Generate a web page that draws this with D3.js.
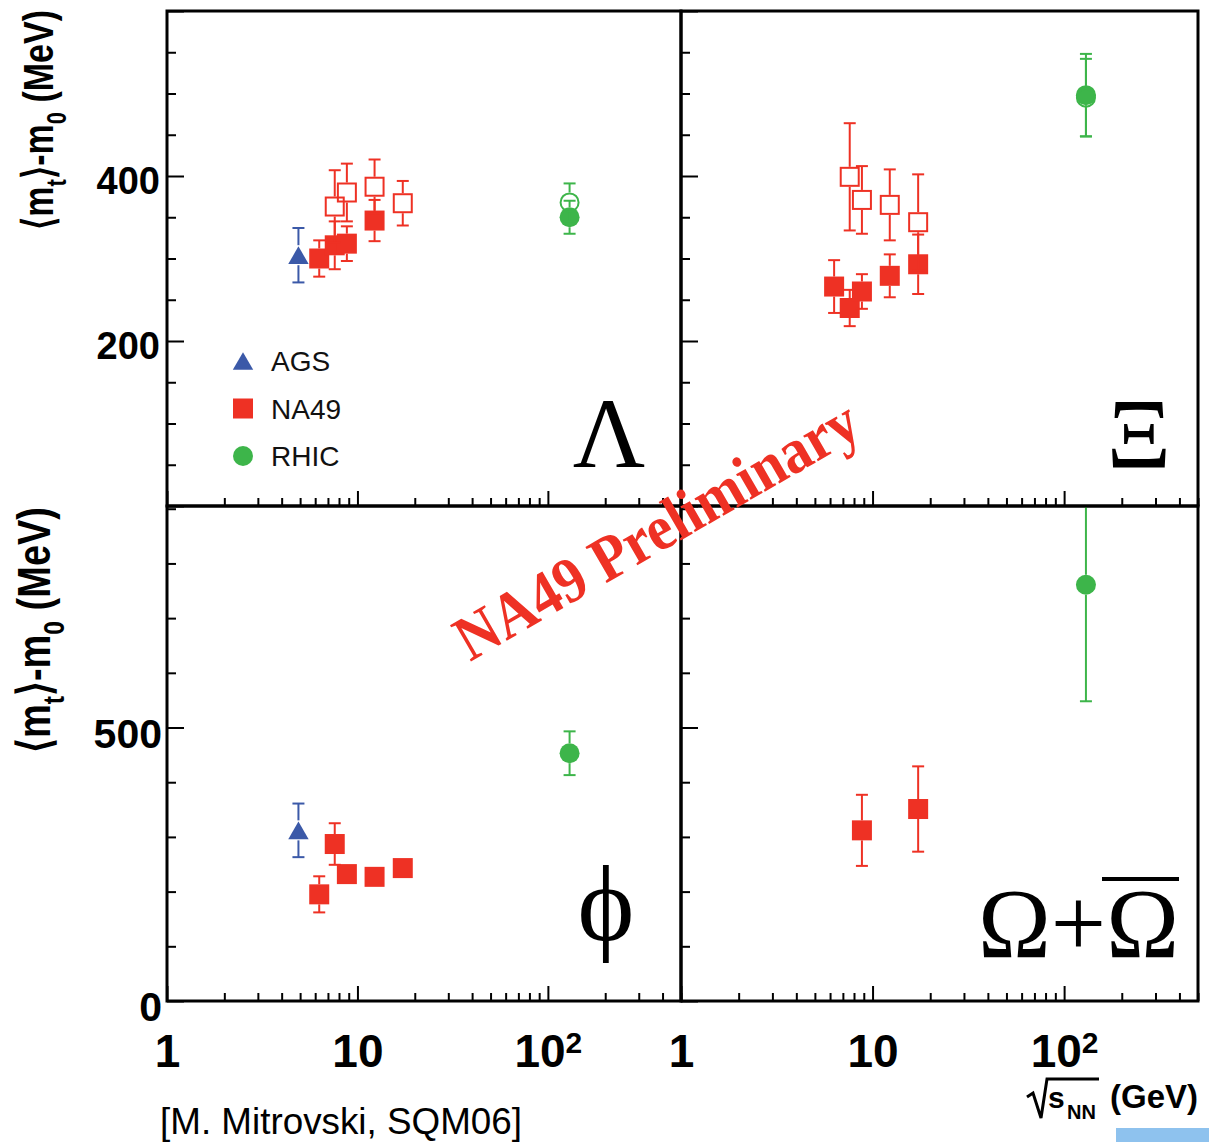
<!DOCTYPE html>
<html>
<head>
<meta charset="utf-8">
<script src="https://cdn.jsdelivr.net/npm/d3@7"></script>
<style>
  body { margin: 0; background: #fff; }
  svg { display: block; }
</style>
</head>
<body>
<div id="chart"></div>
<script>
// x: sqrt(s_NN) in GeV, y: <mt>-m0 in MeV, err: error in MeV
const lambdaAGS     = [[4.9, 304, 33]];
const lambdaNA49    = [[6.3, 300, 22], [7.6, 316, 29], [8.8, 318, 21], [12.3, 346, 25]];
const lambdaBarNA49 = [[7.6, 363, 44], [8.8, 380, 35], [12.3, 387, 33], [17.3, 367, 27]];
const lambdaRHIC    = [[130, 350, 20]];
const lambdaBarRHIC = [[130, 368, 23]];

const xiNA49    = [[6.3, 266, 32], [7.6, 240, 22], [8.8, 260, 21], [12.3, 279, 26], [17.3, 293, 36]];
const xiBarNA49 = [[7.6, 399, 65], [8.8, 371, 41], [12.3, 365, 43], [17.3, 344, 58]];
const xiRHIC    = [[130, 498, 50]];
const xiBarRHIC = [[130, 495, 47]];

const phiAGS  = [[4.9, 312, 49]];
const phiNA49 = [[6.3, 195, 33], [7.6, 287, 38], [8.8, 232, 8], [12.3, 227, 8], [17.3, 243, 8]];
const phiRHIC = [[130, 453, 40]];

const omegaNA49 = [[8.8, 312, 65], [17.3, 351, 78]];
const omegaRHIC = [[130, 761, 213]];

const legendNames = ["AGS", "NA49", "RHIC"];

const xMajor = [1, 10, 100];
const xMinor = [2, 3, 4, 5, 6, 7, 8, 9, 20, 30, 40, 50, 60, 70, 80, 90, 200, 300, 400, 500];
const yTopMajor = [0, 200, 400, 600];
const yTopMinor = [50, 100, 150, 250, 300, 350, 450, 500, 550];
const yBotMajor = [0, 500];
const yBotMinor = [100, 200, 300, 400, 600, 700, 800, 900];
const yTopLabels = [200, 400];
const yBotLabels = [0, 500];

const RED = "#ee3124", BLUE = "#3b59a8", GREEN = "#3db54a";
const sans = "'Liberation Sans', Arial, Helvetica, sans-serif";
const serif = "'Liberation Serif', 'Times New Roman', 'DejaVu Serif', serif";

const width = 1209, height = 1142;

const svg = d3.select("#chart").append("svg")
    .attr("width", width)
    .attr("height", height);

const defs = svg.append("defs");

// panel layout
const panels = [
    {id: "lam", x0: 167, x1: 681, y0: 11, y1: 506, yMax: 600, major: yTopMajor, minor: yTopMinor,
     labels: yTopLabels, xLabels: false, series: [
        {data: lambdaAGS, shape: "tri", color: BLUE},
        {data: lambdaNA49, shape: "sq", color: RED},
        {data: lambdaBarNA49, shape: "sq", color: RED, open: true},
        {data: lambdaRHIC, shape: "circ", color: GREEN},
        {data: lambdaBarRHIC, shape: "circ", color: GREEN, open: true}]},
    {id: "xi", x0: 681, x1: 1198, y0: 11, y1: 506, yMax: 600, major: yTopMajor, minor: yTopMinor,
     labels: null, xLabels: false, series: [
        {data: xiNA49, shape: "sq", color: RED},
        {data: xiBarNA49, shape: "sq", color: RED, open: true},
        {data: xiRHIC, shape: "circ", color: GREEN},
        {data: xiBarRHIC, shape: "circ", color: GREEN, open: true}]},
    {id: "phi", x0: 167, x1: 681, y0: 506, y1: 1001, yMax: 905, major: yBotMajor, minor: yBotMinor,
     labels: yBotLabels, xLabels: true, series: [
        {data: phiAGS, shape: "tri", color: BLUE},
        {data: phiNA49, shape: "sq", color: RED},
        {data: phiRHIC, shape: "circ", color: GREEN}]},
    {id: "om", x0: 681, x1: 1198, y0: 506, y1: 1001, yMax: 905, major: yBotMajor, minor: yBotMinor,
     labels: null, xLabels: true, series: [
        {data: omegaNA49, shape: "sq", color: RED},
        {data: omegaRHIC, shape: "circ", color: GREEN}]}
];

const half = 10;
const triangle = d3.symbol(d3.symbolTriangle, 180);

function marker(sel, shape, color, open, cx, cy) {
    if (shape === "sq") {
        sel.append("rect")
            .attr("x", cx - half + (open ? 1 : 0)).attr("y", cy - half + (open ? 1 : 0))
            .attr("width", open ? 2 * half - 2 : 2 * half).attr("height", open ? 2 * half - 2 : 2 * half)
            .attr("fill", open ? "none" : color)
            .attr("stroke", open ? color : "none")
            .attr("stroke-width", 2);
    } else if (shape === "circ") {
        sel.append("circle")
            .attr("cx", cx).attr("cy", cy).attr("r", open ? half - 1 : half)
            .attr("fill", open ? "none" : color)
            .attr("stroke", open ? color : "none")
            .attr("stroke-width", 2);
    } else {
        sel.append("path")
            .attr("d", triangle())
            .attr("transform", `translate(${cx},${cy + 2.9})`)
            .attr("fill", color);
    }
}

function cleanAxis(g) {
    g.select(".domain").remove();
    g.selectAll(".tick line").attr("stroke", "#000").attr("stroke-width", 2);
}

panels.forEach(p => {
    const x = d3.scaleLog().domain([1, 500]).range([p.x0, p.x1]);
    const y = d3.scaleLinear().domain([0, p.yMax]).range([p.y1, p.y0]);
    const g = svg.append("g");

    defs.append("clipPath").attr("id", "clip-" + p.id)
        .append("rect")
        .attr("x", p.x0).attr("y", p.y0)
        .attr("width", p.x1 - p.x0).attr("height", p.y1 - p.y0);

    // y ticks (inside, on the left edge)
    g.append("g").attr("transform", `translate(${p.x0},0)`)
        .call(d3.axisRight(y).tickValues(p.minor).tickSize(9).tickFormat(""))
        .call(cleanAxis);
    g.append("g").attr("transform", `translate(${p.x0},0)`)
        .call(d3.axisRight(y).tickValues(p.major).tickSize(17).tickFormat(""))
        .call(cleanAxis);

    // x ticks (inside, on the bottom edge)
    g.append("g").attr("transform", `translate(0,${p.y1})`)
        .call(d3.axisTop(x).tickValues(xMinor).tickSize(8).tickFormat(""))
        .call(cleanAxis);
    g.append("g").attr("transform", `translate(0,${p.y1})`)
        .call(d3.axisTop(x).tickValues(xMajor).tickSize(15).tickFormat(""))
        .call(cleanAxis);

    if (p.labels) {
        const top = p.y1 < 600;
        const ax = g.append("g").attr("transform", `translate(${p.x0},0)`)
            .call(d3.axisLeft(y).tickValues(p.labels).tickSize(0).tickPadding(top ? 7 : 5));
        ax.select(".domain").remove();
        ax.selectAll("text")
            .attr("font-family", sans).attr("font-weight", "bold")
            .attr("font-size", top ? 38 : 41)
            .attr("dy", top ? "0.47em" : "0.48em")
            .attr("fill", "#000");
    }

    if (p.xLabels) {
        const ax = g.append("g").attr("transform", `translate(0,${p.y1})`)
            .call(d3.axisBottom(x).tickValues(xMajor).tickSize(0).tickPadding(33)
                .tickFormat(d => d === 100 ? "10" : d));
        ax.select(".domain").remove();
        ax.selectAll("text")
            .attr("font-family", sans).attr("font-weight", "bold")
            .attr("font-size", 46).attr("fill", "#000");
        ax.selectAll(".tick").filter(d => d === 100).select("text")
            .append("tspan").attr("font-size", 30).attr("dy", "-0.45em").text("2");
    }

    // data
    const dg = g.append("g").attr("clip-path", `url(#clip-${p.id})`);
    p.series.forEach(s => {
        s.data.forEach(d => {
            const cx = x(d[0]), cy = y(d[1]);
            const yt = y(d[1] + d[2]), yb = y(d[1] - d[2]);
            const eg = dg.append("g").attr("stroke", s.color).attr("stroke-width", 2);
            if (cy - yt > half) {
                eg.append("line").attr("x1", cx).attr("x2", cx).attr("y1", yt).attr("y2", cy - half);
                eg.append("line").attr("x1", cx - 6).attr("x2", cx + 6).attr("y1", yt).attr("y2", yt);
            }
            if (yb - cy > half) {
                eg.append("line").attr("x1", cx).attr("x2", cx).attr("y1", cy + half).attr("y2", yb);
                eg.append("line").attr("x1", cx - 6).attr("x2", cx + 6).attr("y1", yb).attr("y2", yb);
            }
            marker(dg, s.shape, s.color, s.open, cx, cy);
        });
    });

    // frame
    g.append("rect")
        .attr("x", p.x0).attr("y", p.y0)
        .attr("width", p.x1 - p.x0).attr("height", p.y1 - p.y0)
        .attr("fill", "none").attr("stroke", "#000").attr("stroke-width", 3);
});

// legend (top-left panel)
const legend = svg.append("g");
const legendShapes = [["tri", BLUE], ["sq", RED], ["circ", GREEN]];
legendNames.forEach((name, i) => {
    const ly = 361 + i * 47.5;
    marker(legend, legendShapes[i][0], legendShapes[i][1], false, 243, ly);
    legend.append("text")
        .attr("x", 271).attr("y", ly + 10)
        .attr("font-family", sans).attr("font-size", 28)
        .attr("fill", "#111")
        .text(name);
});

// particle names
const greek = svg.append("g").attr("font-family", serif).attr("fill", "#000");
greek.append("text").attr("x", 609).attr("y", 467).attr("font-size", 100)
    .attr("text-anchor", "middle").text("Λ");
greek.append("text").attr("x", 1139).attr("y", 467).attr("font-size", 100)
    .attr("text-anchor", "middle").text("Ξ");
greek.append("text").attr("x", 606).attr("y", 940).attr("font-size", 108)
    .attr("text-anchor", "middle").text("ϕ");
greek.append("text").attr("x", 978).attr("y", 957).attr("font-size", 100)
    .attr("textLength", 201).attr("lengthAdjust", "spacingAndGlyphs").text("Ω+Ω");
greek.append("line").attr("x1", 1102).attr("x2", 1179).attr("y1", 879).attr("y2", 879)
    .attr("stroke", "#000").attr("stroke-width", 4);

// y axis titles
function yTitle(tx, ty, len, size) {
    const t = svg.append("text")
        .attr("transform", `translate(${tx},${ty}) rotate(-90) scale(1,1.3)`)
        .attr("font-family", sans).attr("font-weight", "bold")
        .attr("font-size", size).attr("fill", "#000")
        .attr("textLength", len).attr("lengthAdjust", "spacingAndGlyphs");
    t.append("tspan").text("⟨m");
    t.append("tspan").attr("font-size", size * 0.65).attr("dy", size * 0.3).text("t");
    t.append("tspan").attr("dy", -size * 0.3).text("⟩-m");
    t.append("tspan").attr("font-size", size * 0.65).attr("dy", size * 0.3).text("0");
    t.append("tspan").attr("dy", -size * 0.3).text(" (MeV)");
}
yTitle(53, 230, 220, 33);
yTitle(50, 753, 246, 35);

// x axis title
const xt = svg.append("g").attr("font-family", sans).attr("font-weight", "bold").attr("fill", "#000");
xt.append("text").attr("x", 1198).attr("y", 1108).attr("font-size", 33)
    .attr("text-anchor", "end").text("(GeV)");
xt.append("text").attr("x", 1048).attr("y", 1108).attr("font-size", 30).text("s");
xt.append("text").attr("x", 1067).attr("y", 1119).attr("font-size", 20).text("NN");
xt.append("path")
    .attr("d", "M1027,1097 L1033,1093 L1041,1118 L1047,1079 L1099,1079")
    .attr("fill", "none").attr("stroke", "#000").attr("stroke-width", 3);

// watermark
svg.append("text")
    .attr("transform", "translate(470,662) rotate(-30)")
    .attr("font-family", serif).attr("font-weight", "bold")
    .attr("font-size", 64).attr("fill", RED)
    .attr("textLength", 455).attr("lengthAdjust", "spacingAndGlyphs")
    .text("NA49 Preliminary");

// reference
svg.append("text")
    .attr("x", 160).attr("y", 1134)
    .attr("font-family", sans).attr("font-size", 36).attr("fill", "#000")
    .attr("textLength", 362).attr("lengthAdjust", "spacingAndGlyphs")
    .text("[M. Mitrovski, SQM06]");

svg.append("rect")
    .attr("x", 1116).attr("y", 1128).attr("width", 93).attr("height", 14)
    .attr("fill", "#8ec2ee");
</script>
</body>
</html>
